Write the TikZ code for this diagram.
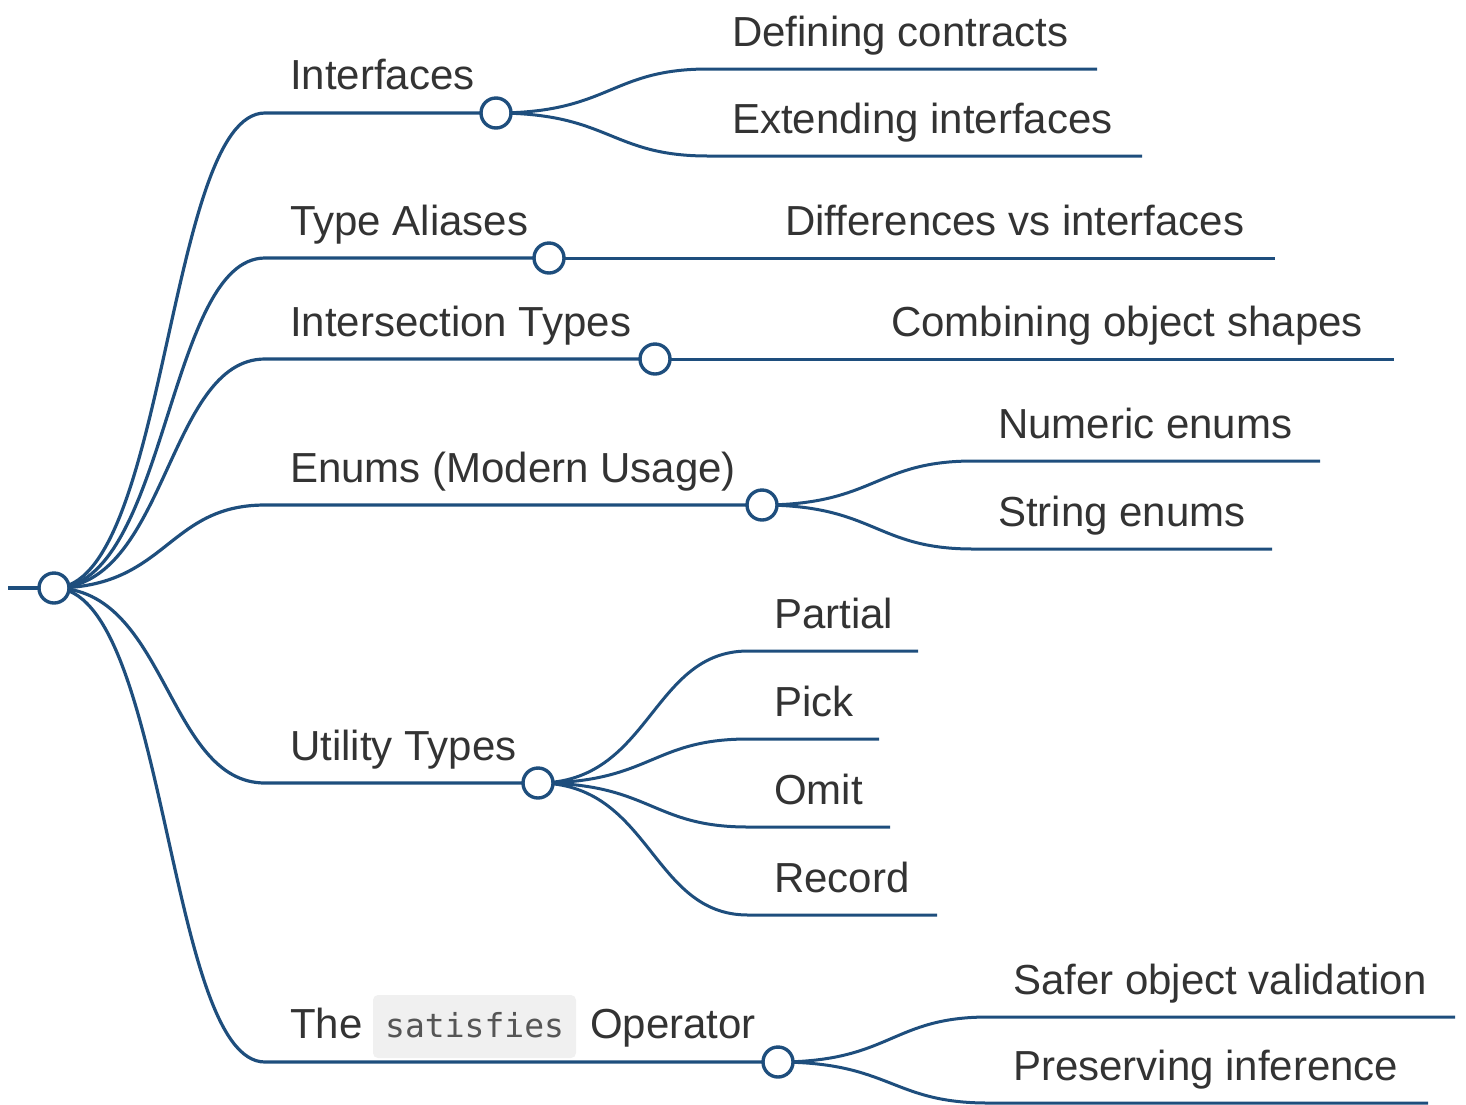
\documentclass[tikz,border=0pt]{standalone}
\usepackage{fontspec}
\setmainfont{Liberation Sans}
\newfontfamily\codefont{DejaVu Sans Mono}
\definecolor{edge}{RGB}{30,78,125}
\definecolor{txt}{RGB}{51,51,51}
\definecolor{codebg}{RGB}{240,240,240}
\definecolor{codetxt}{RGB}{85,85,85}
\tikzset{
 lbl/.style={anchor=base west, inner sep=0pt, text=txt, font=\fontsize{42}{48}\selectfont},
 codelbl/.style={anchor=base west, inner sep=0pt, text=codetxt, font=\codefont\fontsize{33}{40}\selectfont},
 dot/.style={circle, draw=edge, line width=3.4pt, fill=white, minimum size=30pt, inner sep=0pt},
 link/.style={draw=edge, line width=3.2pt},
 sublink/.style={draw=edge, line width=3pt},
 codebox/.style={fill=codebg, rounded corners=5pt, minimum width=203pt, minimum height=63pt, inner sep=0pt},
}
\begin{document}
\begin{tikzpicture}[x=1pt,y=-1pt]
\useasboundingbox (0,0) rectangle (1466,1104);
% code background first
\node[codebox] (cbox) at (474.5,1026.5) {};

% coordinates
\coordinate (rin) at (8,588);
\coordinate (b1) at (265,113);
\coordinate (b2) at (265,258);
\coordinate (b3) at (265,359);
\coordinate (b4) at (265,505);
\coordinate (b5) at (265,783);
\coordinate (b6) at (265,1062);

\coordinate (c11) at (708,69);  \coordinate (e11) at (1097,69);
\coordinate (c12) at (708,156); \coordinate (e12) at (1142,156);
\coordinate (c21) at (760,258); \coordinate (e21) at (1275,258);
\coordinate (c31) at (866,359); \coordinate (e31) at (1394,359);
\coordinate (c41) at (973,461); \coordinate (e41) at (1320,461);
\coordinate (c42) at (973,549); \coordinate (e42) at (1272,549);
\coordinate (c51) at (748,651); \coordinate (e51) at (918,651);
\coordinate (c52) at (748,739); \coordinate (e52) at (879,739);
\coordinate (c53) at (748,827); \coordinate (e53) at (890,827);
\coordinate (c54) at (748,915); \coordinate (e54) at (937,915);
\coordinate (c61) at (988,1017); \coordinate (e61) at (1455,1017);
\coordinate (c62) at (988,1103); \coordinate (e62) at (1428,1103);

% circle positions
\path (54,588) coordinate (pr) (496,113) coordinate (p1) (549,258) coordinate (p2)
      (655,359) coordinate (p3) (762,505) coordinate (p4) (538,783) coordinate (p5)
      (778,1062) coordinate (p6);

% edges
\draw[link] (rin) -- (pr);
\draw[link] (pr) .. controls (167,588) and (167,113) .. (b1) -- (p1);
\draw[link] (pr) .. controls (167,588) and (167,258) .. (b2) -- (p2);
\draw[link] (pr) .. controls (167,588) and (167,359) .. (b3) -- (p3);
\draw[link] (pr) .. controls (167,588) and (167,505) .. (b4) -- (p4);
\draw[link] (pr) .. controls (167,588) and (167,783) .. (b5) -- (p5);
\draw[link] (pr) .. controls (167,588) and (167,1062) .. (b6) -- (p6);

\draw[sublink] (p1) .. controls (610,113) and (610,69) .. (c11) -- (e11);
\draw[sublink] (p1) .. controls (610,113) and (610,156) .. (c12) -- (e12);
\draw[sublink] (p2) -- (c21) -- (e21);
\draw[sublink] (p3) -- (c31) -- (e31);
\draw[sublink] (p4) .. controls (875,505) and (875,461) .. (c41) -- (e41);
\draw[sublink] (p4) .. controls (875,505) and (875,549) .. (c42) -- (e42);
\draw[sublink] (p5) .. controls (651,783) and (651,651) .. (c51) -- (e51);
\draw[sublink] (p5) .. controls (651,783) and (651,739) .. (c52) -- (e52);
\draw[sublink] (p5) .. controls (651,783) and (651,827) .. (c53) -- (e53);
\draw[sublink] (p5) .. controls (651,783) and (651,915) .. (c54) -- (e54);
\draw[sublink] (p6) .. controls (891,1062) and (891,1017) .. (c61) -- (e61);
\draw[sublink] (p6) .. controls (891,1062) and (891,1103) .. (c62) -- (e62);

% circles on top
\node[dot] (root) at (pr) {};
\node[dot] (n1) at (p1) {};
\node[dot] (n2) at (p2) {};
\node[dot] (n3) at (p3) {};
\node[dot] (n4) at (p4) {};
\node[dot] (n5) at (p5) {};
\node[dot] (n6) at (p6) {};

% labels
\node[lbl] (t1) at (290,89) {Interfaces};
\node[lbl] (t11) at (732,46) {Defining contracts};
\node[lbl] (t12) at (732,133) {Extending interfaces};
\node[lbl] (t2) at (290,235) {Type Aliases};
\node[lbl] (t21) at (785,235) {Differences vs interfaces};
\node[lbl] (t3) at (290,336) {Intersection Types};
\node[lbl] (t31) at (891,336) {Combining object shapes};
\node[lbl] (t4) at (290,482) {Enums (Modern Usage)};
\node[lbl] (t41) at (998,438) {Numeric enums};
\node[lbl] (t42) at (998,526) {String enums};
\node[lbl] (t5) at (290,760) {Utility Types};
\node[lbl] (t51) at (774,628) {Partial};
\node[lbl] (t52) at (774,716) {Pick};
\node[lbl] (t53) at (774,804) {Omit};
\node[lbl] (t54) at (774,892) {Record};
\node[lbl] (t6a) at (290,1038) {The};
\node[codelbl] (t6b) at (385,1037) {satisfies};
\node[lbl] (t6c) at (590,1038) {Operator};
\node[lbl] (t61) at (1013,994) {Safer object validation};
\node[lbl] (t62) at (1013,1080) {Preserving inference};
\end{tikzpicture}
\end{document}
